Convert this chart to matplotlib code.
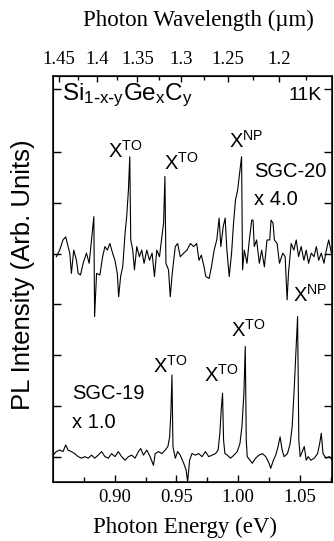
import matplotlib
matplotlib.use("Agg")
import matplotlib.pyplot as plt

plt.rcParams['font.family'] = 'Liberation Sans'
plt.rcParams['mathtext.default'] = 'regular'

# SGC-20 (x 4.0), upper trace
e_sgc20 = [0.8527, 0.8554, 0.8581, 0.8603, 0.8622, 0.8636, 0.8649, 0.8668, 0.8690, 0.8704,
           0.8723, 0.8744, 0.8771, 0.8793, 0.8812, 0.8831, 0.8837, 0.8853, 0.8880, 0.8902,
           0.8921, 0.8940, 0.8961, 0.8983, 0.9002, 0.9021, 0.9032, 0.9048, 0.9065, 0.9084,
           0.9097, 0.9111, 0.9122, 0.9130, 0.9146, 0.9160, 0.9179, 0.9200, 0.9219, 0.9238,
           0.9260, 0.9282, 0.9303, 0.9322, 0.9341, 0.9363, 0.9382, 0.9396, 0.9407, 0.9415,
           0.9436, 0.9450, 0.9466, 0.9491, 0.9510, 0.9531, 0.9559, 0.9586, 0.9613, 0.9640,
           0.9664, 0.9683, 0.9702, 0.9724, 0.9738, 0.9765, 0.9784, 0.9806, 0.9827, 0.9846,
           0.9860, 0.9879, 0.9895, 0.9909, 0.9928, 0.9947, 0.9963, 0.9979, 0.9996, 1.0012,
           1.0028, 1.0036, 1.0050, 1.0072, 1.0091, 1.0110, 1.0121, 1.0131, 1.0150, 1.0172,
           1.0191, 1.0213, 1.0234, 1.0256, 1.0267, 1.0283, 1.0294, 1.0316, 1.0335, 1.0362,
           1.0381, 1.0397, 1.0408, 1.0430, 1.0452, 1.0471, 1.0490, 1.0511, 1.0533, 1.0552,
           1.0571, 1.0593, 1.0615, 1.0634, 1.0653, 1.0674, 1.0696, 1.0715, 1.0734, 1.0756]
i_sgc20 = [4.44, 4.57, 4.77, 4.83, 4.64, 4.51, 4.11, 4.57, 4.37, 4.11,
           4.08, 4.31, 4.51, 4.31, 4.77, 5.23, 3.26, 4.11, 4.08, 4.44,
           4.64, 4.57, 4.70, 4.51, 4.37, 4.11, 3.65, 4.05, 4.24, 4.90,
           5.23, 5.75, 6.41, 4.77, 4.57, 4.18, 4.64, 4.44, 4.57, 4.31,
           4.57, 4.37, 4.51, 4.05, 4.57, 4.44, 4.83, 5.10, 6.02, 4.31,
           4.18, 3.65, 4.11, 4.64, 4.70, 4.44, 4.51, 4.57, 4.70, 4.64,
           4.70, 4.37, 4.47, 4.24, 4.05, 4.01, 4.24, 4.57, 4.77, 5.20,
           4.64, 5.03, 5.20, 4.57, 4.05, 4.51, 5.10, 5.56, 5.75, 6.08,
           6.41, 4.18, 4.57, 4.31, 4.77, 5.16, 5.16, 4.64, 4.77, 4.31,
           4.57, 4.24, 4.77, 4.77, 5.16, 5.10, 4.77, 4.70, 4.31, 4.51,
           4.44, 3.59, 4.11, 4.70, 4.57, 4.77, 4.44, 4.64, 4.37, 4.57,
           4.31, 4.51, 4.44, 4.64, 4.37, 4.51, 4.31, 4.57, 4.77, 4.51]

# SGC-19 (x 1.0), lower trace
e_sgc19 = [0.8500, 0.8527, 0.8554, 0.8581, 0.8603, 0.8622, 0.8649, 0.8676, 0.8704, 0.8731,
           0.8758, 0.8785, 0.8812, 0.8839, 0.8866, 0.8894, 0.8921, 0.8948, 0.8975, 0.9002,
           0.9029, 0.9056, 0.9084, 0.9111, 0.9138, 0.9165, 0.9192, 0.9211, 0.9233, 0.9260,
           0.9287, 0.9314, 0.9328, 0.9355, 0.9382, 0.9409, 0.9431, 0.9445, 0.9455, 0.9464,
           0.9472, 0.9491, 0.9510, 0.9531, 0.9559, 0.9578, 0.9591, 0.9607, 0.9626, 0.9654,
           0.9681, 0.9708, 0.9735, 0.9762, 0.9789, 0.9817, 0.9838, 0.9852, 0.9863, 0.9874,
           0.9882, 0.9893, 0.9912, 0.9939, 0.9966, 0.9993, 1.0015, 1.0031, 1.0047, 1.0058,
           1.0066, 1.0074, 1.0096, 1.0115, 1.0142, 1.0169, 1.0197, 1.0224, 1.0251, 1.0264,
           1.0286, 1.0305, 1.0324, 1.0340, 1.0357, 1.0373, 1.0400, 1.0422, 1.0438, 1.0454,
           1.0468, 1.0482, 1.0492, 1.0503, 1.0520, 1.0536, 1.0552, 1.0568, 1.0590, 1.0617,
           1.0644, 1.0661, 1.0674, 1.0688, 1.0712, 1.0739, 1.0767]
i_sgc19 = [0.53, 0.60, 0.63, 0.60, 0.73, 0.63, 0.60, 0.56, 0.50, 0.47,
           0.50, 0.47, 0.53, 0.47, 0.53, 0.60, 0.50, 0.47, 0.56, 0.50,
           0.60, 0.50, 0.43, 0.50, 0.53, 0.47, 0.60, 0.66, 0.53, 0.63,
           0.50, 0.33, 0.56, 0.60, 0.56, 0.63, 0.70, 0.89, 1.35, 2.11,
           0.70, 0.47, 0.60, 0.53, 0.37, 0.24, 0.01, 0.43, 0.56, 0.53,
           0.56, 0.50, 0.60, 0.50, 0.53, 0.56, 0.63, 0.96, 1.42, 1.75,
           0.83, 0.56, 0.53, 0.47, 0.53, 0.60, 0.76, 1.09, 1.75, 2.67,
           0.83, 0.50, 0.43, 0.37, 0.47, 0.53, 0.56, 0.50, 0.37, 0.27,
           0.43, 0.53, 0.70, 0.89, 0.63, 0.50, 0.56, 0.76, 1.09, 1.81,
           2.54, 3.26, 0.83, 0.50, 0.60, 0.70, 0.43, 0.50, 0.43, 0.47,
           0.56, 0.76, 0.96, 0.56, 0.47, 0.50, 0.43]

wavelengths = [1.45, 1.4, 1.35, 1.3, 1.25, 1.2]
wl_labels = ['1.45', '1.4', '1.35', '1.3', '1.25', '1.2']
wl_minor = [1.425, 1.375, 1.325, 1.275, 1.225, 1.175]
hc = 1.2398  # eV um

fig = plt.figure(figsize=(3.34, 5.41), dpi=100)
ax = fig.add_axes([0.1587, 0.109, 0.835, 0.7505])

ax.plot(e_sgc20, i_sgc20, color='black', lw=0.8)
ax.plot(e_sgc19, i_sgc19, color='black', lw=0.8)

ax.set_xlim(0.85, 1.076)
ax.set_ylim(0, 8)
ax.set_xticks([0.90, 0.95, 1.00, 1.05])
ax.set_xticklabels(['0.90', '0.95', '1.00', '1.05'])
ax.set_xticks([0.875, 0.925, 0.975, 1.025, 1.075], minor=True)
ax.set_yticks([0.5, 1.5, 2.5, 3.5, 4.5, 5.5, 6.5, 7.75])
ax.tick_params(axis='both', which='both', direction='in', width=1)
ax.tick_params(axis='x', which='major', length=5, labelsize=13.5, pad=5,
               labelfontfamily='Liberation Serif')
ax.tick_params(axis='x', which='minor', length=3.5)
ax.tick_params(axis='y', length=6, right=True, labelleft=False)
for s in ax.spines.values():
    s.set_linewidth(1.1)

ax2 = ax.twiny()
ax2.set_xlim(ax.get_xlim())
ax2.set_xticks([hc / w for w in wavelengths])
ax2.set_xticklabels(wl_labels)
ax2.set_xticks([hc / w for w in wl_minor], minor=True)
ax2.tick_params(axis='x', which='both', direction='in', width=1)
ax2.tick_params(axis='x', which='major', length=4.5, labelsize=13.5, pad=6,
                labelfontfamily='Liberation Serif')
ax2.tick_params(axis='x', which='minor', length=3)

fig.text(0.554, 0.026, 'Photon Energy (eV)', ha='center', va='center',
         fontsize=16.5, family='Liberation Serif')
fig.text(0.593, 0.963, 'Photon Wavelength (\u00b5m)', ha='center', va='center',
         fontsize=16.5, family='Liberation Serif')
fig.text(0.068, 0.492, 'PL Intensity (Arb. Units)', ha='center', va='center',
         rotation=90, fontsize=18.5)

fs = 14.5
ax.text(0.8573, 7.53, r'Si$_{1\text{-}x\text{-}y}$Ge$_x$C$_y$', fontsize=17.5,
        ha='left', va='baseline')
ax.text(1.0674, 7.53, '11K', fontsize=14, ha='right', va='baseline')
ax.text(0.8948, 6.38, 'X$^{TO}$', fontsize=fs, va='baseline')
ax.text(0.9396, 6.15, 'X$^{TO}$', fontsize=fs, va='baseline')
ax.text(0.9925, 6.58, 'X$^{NP}$', fontsize=fs, va='baseline')
ax.text(1.0129, 6.11, 'SGC-20', fontsize=fs, va='center')
ax.text(1.0129, 5.56, 'x 4.0', fontsize=fs, va='center')
ax.text(1.0446, 3.55, 'X$^{NP}$', fontsize=fs, va='baseline')
ax.text(0.9314, 2.15, 'X$^{TO}$', fontsize=fs, va='baseline')
ax.text(0.9721, 1.97, 'X$^{TO}$', fontsize=fs, va='baseline')
ax.text(0.9941, 2.86, 'X$^{TO}$', fontsize=fs, va='baseline')
ax.text(0.8655, 1.75, 'SGC-19', fontsize=fs, va='center')
ax.text(0.8655, 1.18, 'x 1.0', fontsize=fs, va='center')

fig.savefig('out.png', dpi=100)
